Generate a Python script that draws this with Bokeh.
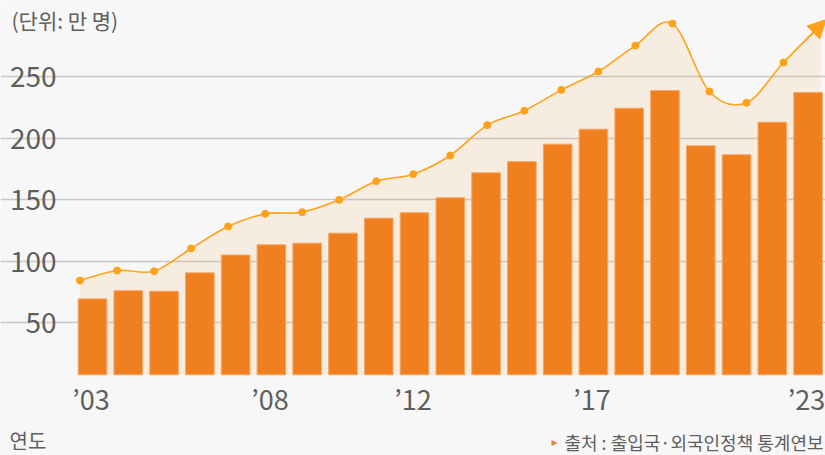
import numpy as np
from bokeh.plotting import figure
from bokeh.models import Range1d, FixedTicker, Grid, Arrow, NormalHead
from bokeh.core.properties import value
from bokeh.embed import file_html
from bokeh.resources import INLINE

# ---------------- data ----------------
years = list(range(2003, 2024))
bar_values = [69.3, 76.0, 75.5, 90.5, 105.0, 113.3, 114.6, 122.8, 135.0, 139.4, 151.6,
              171.9, 181.1, 195.2, 207.4, 224.5, 238.9, 193.9, 186.6, 213.1, 237.3]
line_values = [84.2, 92.4, 91.8, 110.3, 128.2, 138.5, 139.9, 149.9, 165.1, 170.8, 186.0,
               210.7, 222.4, 239.4, 254.4, 275.5, 293.4, 238.1, 228.9, 261.7, 292.0]
tick_years = [2003, 2008, 2012, 2017, 2023]
tick_labels = ["\u201903", "\u201908", "\u201912", "\u201917", "\u201923"]
y_ticks = [50, 100, 150, 200, 250]
y_tick_labels = ["50", "100", "150", "200", "250"]
unit_text = "(단위: 만 명)"
xaxis_text = "연도"
source_text = "출처 : 출입국·외국인정책 통계연보"

# ---------------- layout / style ----------------
W, H = 825, 455
BG = "#f7f7f7"
BAR = "#f07f1f"
LINE = "#ffa21a"
TXT = "#5e5e5e"
FONT = "Noto Sans CJK KR"

# canvas-pixel calibration of the plot
BAR_PX0, BAR_PITCH = 92.0, 35.78      # centre of first bar, px per year (bars)
LINE_PX0, LINE_PITCH = 79.5, 37.025   # first line point, px per year (line)
Y0_PX, Y_SCALE = 383.5, 1.2285        # canvas y of value 0, px per unit
BASE = 7.5                            # value at the bottom of the bar area
AREA_L, AREA_R = 77, 818              # horizontal extent of the grid lines

x_start = years[0] - BAR_PX0 / BAR_PITCH
x_end = x_start + W / BAR_PITCH
lx_start = years[0] - LINE_PX0 / LINE_PITCH
lx_end = lx_start + W / LINE_PITCH
y_start = (Y0_PX - H) / Y_SCALE
y_end = Y0_PX / Y_SCALE


def cx(px_):
    return x_start + px_ / BAR_PITCH


def cy(py_):
    return (Y0_PX - py_) / Y_SCALE


p = figure(width=W, height=H, output_backend="svg", toolbar_location=None,
           x_range=Range1d(x_start, x_end), y_range=Range1d(y_start, y_end),
           x_axis_location=None, y_axis_location=None,
           min_border=0, min_border_left=0, min_border_right=0,
           min_border_top=0, min_border_bottom=0)
p.extra_x_ranges = {"line": Range1d(lx_start, lx_end)}
p.background_fill_color = BG
p.border_fill_color = BG
p.outline_line_color = None
p.grid.visible = False

# horizontal grid lines
grid = Grid(dimension=1, ticker=FixedTicker(ticks=y_ticks), bounds=(cx(AREA_L), cx(AREA_R)),
            grid_line_color="#c8c8c8", grid_line_width=1.3)
p.add_layout(grid)

# smooth (Catmull-Rom) path through the line series for rendering
pts_x = np.array(years, dtype=float)
pts_y = np.array(line_values, dtype=float)
n = len(pts_x)
px = np.concatenate([[pts_x[0]], pts_x, [pts_x[-1]]])
py = np.concatenate([[pts_y[0]], pts_y, [pts_y[-1]]])
bx0, by0, bx1, by1, bcx0, bcy0, bcx1, bcy1 = [], [], [], [], [], [], [], []
fill_x, fill_y = [], []
tt = np.linspace(0, 1, 24)
for i in range(n - 1):
    p0x, p0y = px[i], py[i]
    p1x, p1y = px[i + 1], py[i + 1]
    p2x, p2y = px[i + 2], py[i + 2]
    p3x, p3y = px[i + 3], py[i + 3]
    c1x, c1y = p1x + (p2x - p0x) / 6, p1y + (p2y - p0y) / 6
    c2x, c2y = p2x - (p3x - p1x) / 6, p2y - (p3y - p1y) / 6
    bx0.append(p1x); by0.append(p1y); bx1.append(p2x); by1.append(p2y)
    bcx0.append(c1x); bcy0.append(c1y); bcx1.append(c2x); bcy1.append(c2y)
    u = 1 - tt
    fx = u**3 * p1x + 3 * u**2 * tt * c1x + 3 * u * tt**2 * c2x + tt**3 * p2x
    fy = u**3 * p1y + 3 * u**2 * tt * c1y + 3 * u * tt**2 * c2y + tt**3 * p2y
    fill_x.extend(fx.tolist()); fill_y.extend(fy.tolist())

# area under the curve
p.varea(x=fill_x, y1=BASE, y2=fill_y, x_range_name="line",
        fill_color="#f0a53c", fill_alpha=0.13)

# bars
p.vbar(x=years, top=bar_values, bottom=BASE, width=0.8, fill_color=BAR,
       line_color="#f6a867", line_width=1)

# line with markers and arrow head
p.bezier(x0=bx0, y0=by0, x1=bx1, y1=by1, cx0=bcx0, cy0=bcy0, cx1=bcx1, cy1=bcy1,
         x_range_name="line", line_color=LINE, line_width=1.6)
p.scatter(x=years[:-1], y=line_values[:-1], x_range_name="line", size=7,
          fill_color=LINE, line_color=LINE)
slope = line_values[-1] - line_values[-2]
p.add_layout(Arrow(end=NormalHead(size=18, fill_color=LINE, line_color=LINE),
                   x_start=years[-2] + 0.6, y_start=line_values[-2] + 0.6 * slope,
                   x_end=years[-1] + 0.15, y_end=line_values[-1] + 0.15 * slope,
                   x_range_name="line", line_color=LINE, line_width=1.6))

# tick labels
p.text(x=[cx(56)] * len(y_ticks), y=y_ticks, text=y_tick_labels,
       text_font=value(FONT), text_font_size="28px", text_color=TXT,
       text_align="right", text_baseline="middle")
p.text(x=tick_years, y=[cy(397.5)] * len(tick_years), text=tick_labels,
       text_font=value(FONT), text_font_size="27px", text_color=TXT,
       text_align="center", text_baseline="middle", x_offset=-1.5)

# other texts
p.text(x=[cx(11)], y=[cy(19)], text=[unit_text], text_font=value(FONT),
       text_font_size="21px", text_color=TXT, text_align="left", text_baseline="middle")
p.text(x=[cx(9)], y=[cy(440)], text=[xaxis_text], text_font=value(FONT),
       text_font_size="20px", text_color=TXT, text_align="left", text_baseline="middle")
p.text(x=[cx(823)], y=[cy(441)], text=[source_text], text_font=value(FONT),
       text_font_size="18px", text_color=TXT, text_align="right", text_baseline="middle")
p.text(x=[cx(557)], y=[cy(441)], text=["\u25B8"], text_font=value("DejaVu Sans"),
       text_font_size="12px", text_color=BAR, text_align="right", text_baseline="middle")

open("out.html", "w").write(file_html(p, INLINE))
